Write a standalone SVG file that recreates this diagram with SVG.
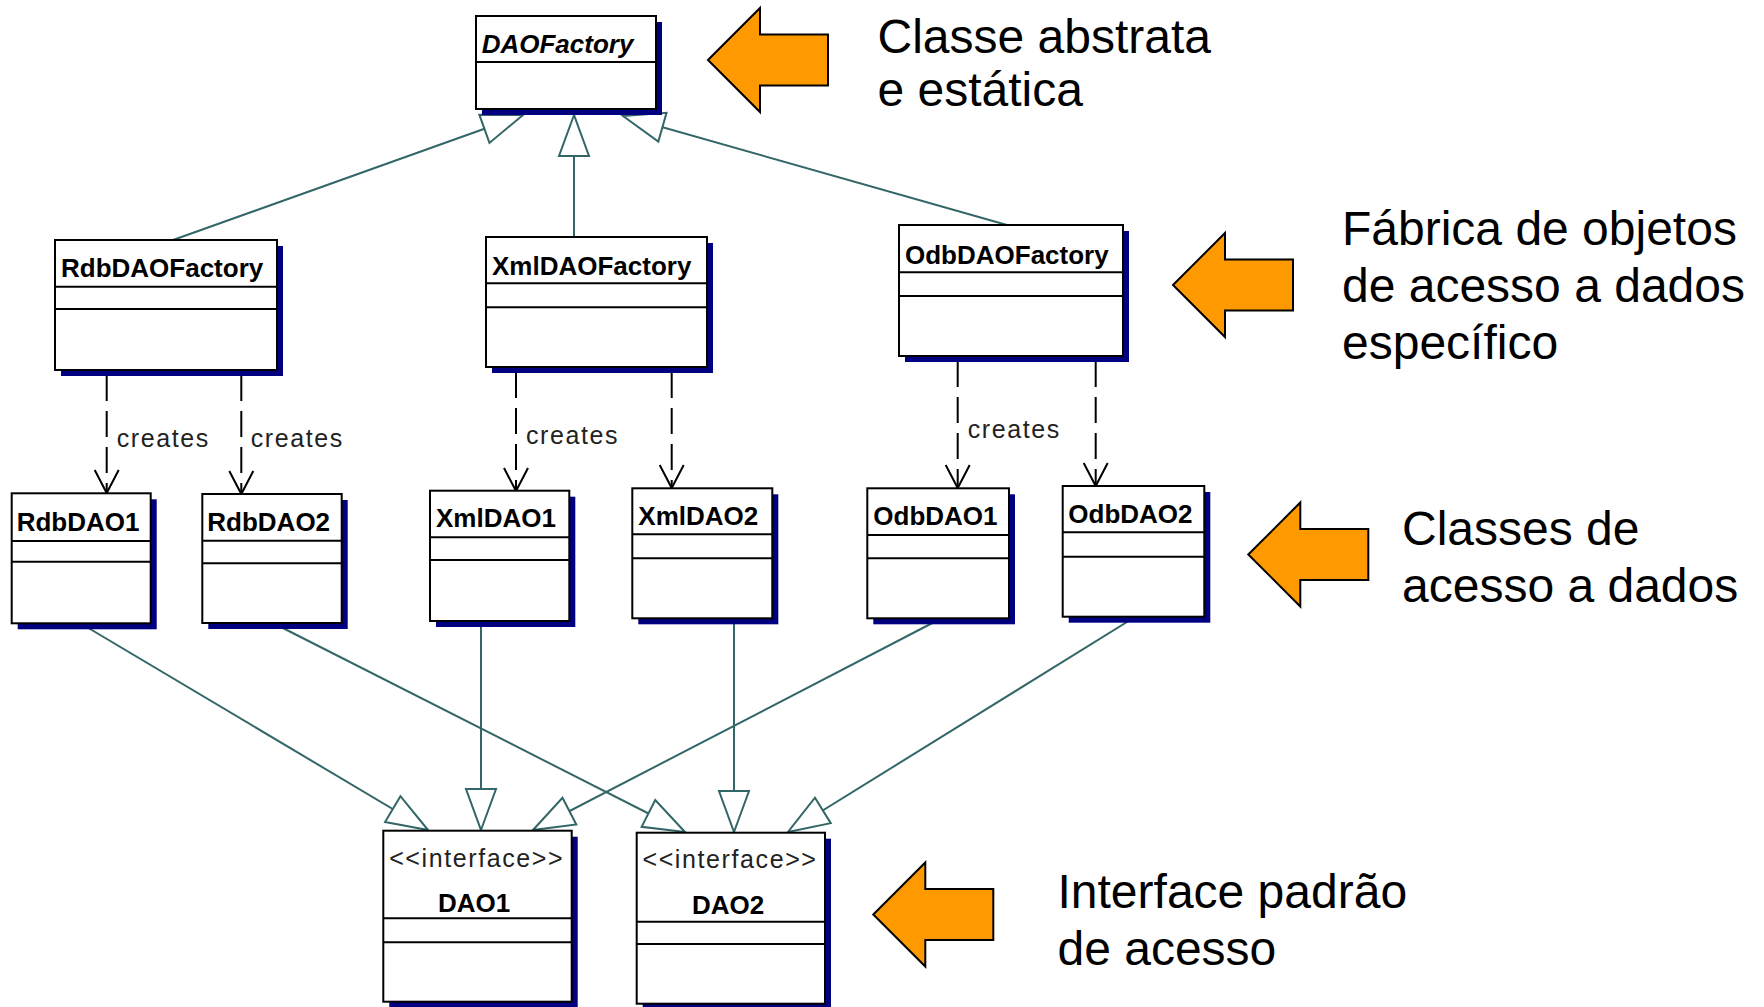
<svg xmlns="http://www.w3.org/2000/svg" width="1764" height="1007" viewBox="0 0 1764 1007">
<style>
.shadow{fill:#000080}
.box{fill:#fff;stroke:#000;stroke-width:2}
.sep{stroke:#000;stroke-width:2}
.name{font-family:"Liberation Sans",Arial,sans-serif;font-weight:bold;font-size:26px;fill:#000}
.small{font-family:"Liberation Sans",Arial,sans-serif;font-size:25px;letter-spacing:1.6px;fill:#222}
.note{font-family:"Liberation Sans",Arial,sans-serif;font-size:48px;fill:#000}
.gen{stroke:#336666;stroke-width:2;fill:none;marker-end:url(#tri)}
.dep{stroke:#000;stroke-width:2;fill:none;stroke-dasharray:26 10;marker-end:url(#open)}
.callout{fill:#FF9900;stroke:#000;stroke-width:2;stroke-linejoin:miter}
</style>
<defs>
<marker id="tri" viewBox="-44 -18 48 36" refX="0" refY="0" markerWidth="48" markerHeight="36" markerUnits="userSpaceOnUse" orient="auto">
<path d="M0,0 L-41,-15 L-41,15 Z" fill="#fff" stroke="#336666" stroke-width="2"/>
</marker>
<marker id="open" viewBox="-26 -15 30 30" refX="0" refY="0" markerWidth="30" markerHeight="30" markerUnits="userSpaceOnUse" orient="auto">
<path d="M-23,-12 L0,0 L-23,12" fill="none" stroke="#000" stroke-width="2"/>
</marker>
<path id="arrowShape" d="M0,0 L52,-52 L52,-25.5 L120,-25.5 L120,25.5 L52,25.5 L52,52 Z"/>
</defs>
<rect width="1764" height="1007" fill="#fff"/>

<g id="connectors">
<line class="gen" x1="173" y1="240" x2="523" y2="115"/>
<line class="gen" x1="574" y1="237" x2="574" y2="115"/>
<line class="gen" x1="1007" y1="225" x2="623" y2="116"/>
<line class="dep" x1="106.7" y1="375" x2="106.7" y2="493"/>
<line class="dep" x1="241.3" y1="375" x2="241.3" y2="494"/>
<line class="dep" x1="516" y1="372" x2="516" y2="491"/>
<line class="dep" x1="671.7" y1="372" x2="671.7" y2="488"/>
<line class="dep" x1="957.7" y1="361" x2="957.7" y2="488"/>
<line class="dep" x1="1095.7" y1="361" x2="1095.7" y2="486"/>
<text class="small" x="116.7" y="446.7">creates</text>
<text class="small" x="250.7" y="446.7">creates</text>
<text class="small" x="526" y="444">creates</text>
<text class="small" x="967.7" y="437.7">creates</text>
<line class="gen" x1="80" y1="623" x2="428" y2="830"/>
<line class="gen" x1="273" y1="623" x2="685" y2="832"/>
<line class="gen" x1="481" y1="621" x2="481" y2="830"/>
<line class="gen" x1="734" y1="618" x2="734" y2="832"/>
<line class="gen" x1="942" y1="618" x2="533" y2="830"/>
<line class="gen" x1="1135" y1="617" x2="788" y2="832"/>
</g>

<g id="DAOFactory">
<rect class="shadow" x="482" y="22" width="180" height="93"/>
<rect class="box" x="476" y="16" width="180" height="93"/>
<line class="sep" x1="476" y1="62" x2="656" y2="62"/>
<text class="name" x="481.7" y="53" font-style="italic">DAOFactory</text>
</g>

<g id="RdbDAOFactory">
<rect class="shadow" x="61" y="246" width="222" height="130"/>
<rect class="box" x="55" y="240" width="222" height="130"/>
<line class="sep" x1="55" y1="286.7" x2="277" y2="286.7"/>
<line class="sep" x1="55" y1="309" x2="277" y2="309"/>
<text class="name" x="61" y="277">RdbDAOFactory</text>
</g>

<g id="XmlDAOFactory">
<rect class="shadow" x="492" y="243" width="221" height="130"/>
<rect class="box" x="486" y="237" width="221" height="130"/>
<line class="sep" x1="486" y1="283.3" x2="707" y2="283.3"/>
<line class="sep" x1="486" y1="307.3" x2="707" y2="307.3"/>
<text class="name" x="492" y="274.5">XmlDAOFactory</text>
</g>

<g id="OdbDAOFactory">
<rect class="shadow" x="905" y="231" width="224" height="131"/>
<rect class="box" x="899" y="225" width="224" height="131"/>
<line class="sep" x1="899" y1="272.3" x2="1123" y2="272.3"/>
<line class="sep" x1="899" y1="296" x2="1123" y2="296"/>
<text class="name" x="905" y="263.5">OdbDAOFactory</text>
</g>

<g id="RdbDAO1">
<rect class="shadow" x="17.7" y="499.3" width="139" height="130"/>
<rect class="box" x="11.7" y="493.3" width="139" height="130"/>
<line class="sep" x1="11.7" y1="541" x2="150.7" y2="541"/>
<line class="sep" x1="11.7" y1="561.7" x2="150.7" y2="561.7"/>
<text class="name" x="16.7" y="531">RdbDAO1</text>
</g>

<g id="RdbDAO2">
<rect class="shadow" x="208.3" y="500" width="139.4" height="129"/>
<rect class="box" x="202.3" y="494" width="139.4" height="129"/>
<line class="sep" x1="202.3" y1="540.7" x2="341.7" y2="540.7"/>
<line class="sep" x1="202.3" y1="563.3" x2="341.7" y2="563.3"/>
<text class="name" x="207.3" y="530.7">RdbDAO2</text>
</g>

<g id="XmlDAO1">
<rect class="shadow" x="436" y="496.7" width="139.3" height="130.3"/>
<rect class="box" x="430" y="490.7" width="139.3" height="130.3"/>
<line class="sep" x1="430" y1="537.3" x2="569.3" y2="537.3"/>
<line class="sep" x1="430" y1="560" x2="569.3" y2="560"/>
<text class="name" x="436" y="526.7">XmlDAO1</text>
</g>

<g id="XmlDAO2">
<rect class="shadow" x="638.3" y="494.3" width="140" height="130"/>
<rect class="box" x="632.3" y="488.3" width="140" height="130"/>
<line class="sep" x1="632.3" y1="534.3" x2="772.3" y2="534.3"/>
<line class="sep" x1="632.3" y1="558.3" x2="772.3" y2="558.3"/>
<text class="name" x="638.3" y="525">XmlDAO2</text>
</g>

<g id="OdbDAO1">
<rect class="shadow" x="873.3" y="494.3" width="141.7" height="130"/>
<rect class="box" x="867.3" y="488.3" width="141.7" height="130"/>
<line class="sep" x1="867.3" y1="535" x2="1009" y2="535"/>
<line class="sep" x1="867.3" y1="558.3" x2="1009" y2="558.3"/>
<text class="name" x="873.3" y="525">OdbDAO1</text>
</g>

<g id="OdbDAO2">
<rect class="shadow" x="1068.7" y="492" width="141.6" height="130.7"/>
<rect class="box" x="1062.7" y="486" width="141.6" height="130.7"/>
<line class="sep" x1="1062.7" y1="532.3" x2="1204.3" y2="532.3"/>
<line class="sep" x1="1062.7" y1="556.7" x2="1204.3" y2="556.7"/>
<text class="name" x="1068.3" y="523.3">OdbDAO2</text>
</g>

<g id="DAO1">
<rect class="shadow" x="389.3" y="836.7" width="188.4" height="171"/>
<rect class="box" x="383.3" y="830.7" width="188.4" height="171"/>
<line class="sep" x1="383.3" y1="918.3" x2="571.7" y2="918.3"/>
<line class="sep" x1="383.3" y1="942.3" x2="571.7" y2="942.3"/>
<text class="small" x="476.7" y="867.3" text-anchor="middle">&lt;&lt;interface&gt;&gt;</text>
<text class="name" x="474" y="911.7" text-anchor="middle">DAO1</text>
</g>

<g id="DAO2">
<rect class="shadow" x="642.7" y="838.7" width="188.3" height="171"/>
<rect class="box" x="636.7" y="832.7" width="188.3" height="171"/>
<line class="sep" x1="636.7" y1="921.7" x2="825" y2="921.7"/>
<line class="sep" x1="636.7" y1="944" x2="825" y2="944"/>
<text class="small" x="730" y="867.5" text-anchor="middle">&lt;&lt;interface&gt;&gt;</text>
<text class="name" x="728" y="914" text-anchor="middle">DAO2</text>
</g>

<g id="note-abstrata">
<use href="#arrowShape" class="callout" transform="translate(708,60)"/>
<text class="note" x="877.5" y="53">Classe abstrata</text>
<text class="note" x="877.5" y="106">e estática</text>
</g>

<g id="note-fabrica">
<use href="#arrowShape" class="callout" transform="translate(1173,285)"/>
<text class="note" x="1342" y="245">Fábrica de objetos</text>
<text class="note" x="1342" y="302">de acesso a dados</text>
<text class="note" x="1342" y="359">específico</text>
</g>

<g id="note-classes">
<use href="#arrowShape" class="callout" transform="translate(1248.3,554.5)"/>
<text class="note" x="1402" y="545">Classes de</text>
<text class="note" x="1402" y="602">acesso a dados</text>
</g>

<g id="note-interface">
<use href="#arrowShape" class="callout" transform="translate(873.3,914.5)"/>
<text class="note" x="1057.5" y="908">Interface padrão</text>
<text class="note" x="1057.5" y="965">de acesso</text>
</g>
</svg>
